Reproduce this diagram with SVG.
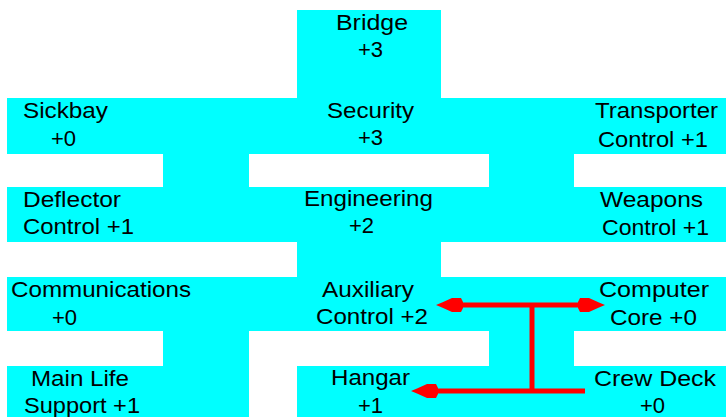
<svg xmlns="http://www.w3.org/2000/svg" width="726" height="417" viewBox="0 0 726 417">
  <style>
    .room { fill: #00ffff; shape-rendering: crispEdges; }
    .passage { fill: #00ffff; shape-rendering: crispEdges; }
    .label { font-family: "Liberation Sans", Arial, sans-serif; font-size: 22px; fill: #000000; }
    .route { fill: none; stroke: #ff0000; stroke-width: 5; stroke-linecap: butt; }
  </style>
  <defs>
    <marker id="head" markerUnits="userSpaceOnUse" viewBox="-29 -8 31 16" markerWidth="31" markerHeight="16" refX="-8" refY="0" orient="auto-start-reverse">
      <path d="M0,0 L-6,-2.6 L-16,-7 L-25,-7 L-27,-3 L-27,3 L-25,7 L-16,7 L-6,2.6 Z" fill="#ff0000"/>
    </marker>
  </defs>
  <rect width="726" height="417" fill="#ffffff"/>

  <g id="bridge">
    <rect class="room" x="297" y="10" width="144" height="88"/>
    <text class="label" x="336" y="30" textLength="72" lengthAdjust="spacingAndGlyphs">Bridge</text>
    <text class="label" x="358" y="57">+3</text>
  </g>

  <g id="sickbay">
    <rect class="room" x="7" y="98" width="290" height="56"/>
    <text class="label" x="23" y="118" textLength="85" lengthAdjust="spacingAndGlyphs">Sickbay</text>
    <text class="label" x="51" y="146">+0</text>
  </g>
  <g id="security">
    <rect class="room" x="297" y="98" width="144" height="56"/>
    <text class="label" x="327" y="118" textLength="87" lengthAdjust="spacingAndGlyphs">Security</text>
    <text class="label" x="358" y="145">+3</text>
  </g>
  <g id="transporter-control">
    <rect class="room" x="441" y="98" width="285" height="56"/>
    <text class="label" x="595" y="118" textLength="123" lengthAdjust="spacingAndGlyphs">Transporter</text>
    <text class="label" x="598" y="147" textLength="110" lengthAdjust="spacingAndGlyphs">Control +1</text>
  </g>

  <g id="deflector-control">
    <rect class="room" x="7" y="187" width="290" height="55"/>
    <text class="label" x="23" y="207" textLength="98" lengthAdjust="spacingAndGlyphs">Deflector</text>
    <text class="label" x="23" y="234" textLength="111" lengthAdjust="spacingAndGlyphs">Control +1</text>
  </g>
  <g id="engineering">
    <rect class="room" x="297" y="187" width="144" height="55"/>
    <text class="label" x="304" y="206" textLength="129" lengthAdjust="spacingAndGlyphs">Engineering</text>
    <text class="label" x="349" y="233">+2</text>
  </g>
  <g id="weapons-control">
    <rect class="room" x="441" y="187" width="285" height="55"/>
    <text class="label" x="600" y="207" textLength="103" lengthAdjust="spacingAndGlyphs">Weapons</text>
    <text class="label" x="602" y="235" textLength="107" lengthAdjust="spacingAndGlyphs">Control +1</text>
  </g>

  <g id="communications">
    <rect class="room" x="7" y="277" width="290" height="54"/>
    <text class="label" x="11" y="297" textLength="180" lengthAdjust="spacingAndGlyphs">Communications</text>
    <text class="label" x="52" y="325">+0</text>
  </g>
  <g id="auxiliary-control">
    <rect class="room" x="297" y="277" width="144" height="54"/>
    <text class="label" x="322" y="297" textLength="92" lengthAdjust="spacingAndGlyphs">Auxiliary</text>
    <text class="label" x="316" y="324" textLength="112" lengthAdjust="spacingAndGlyphs">Control +2</text>
  </g>
  <g id="computer-core">
    <rect class="room" x="441" y="277" width="285" height="54"/>
    <text class="label" x="599" y="297" textLength="110" lengthAdjust="spacingAndGlyphs">Computer</text>
    <text class="label" x="610" y="325" textLength="87" lengthAdjust="spacingAndGlyphs">Core +0</text>
  </g>

  <g id="main-life-support">
    <rect class="room" x="7" y="366" width="242" height="51"/>
    <text class="label" x="31" y="386" textLength="98" lengthAdjust="spacingAndGlyphs">Main Life</text>
    <text class="label" x="24" y="413" textLength="116" lengthAdjust="spacingAndGlyphs">Support +1</text>
  </g>
  <g id="hangar">
    <rect class="room" x="297" y="366" width="192" height="51"/>
    <text class="label" x="331" y="385" textLength="79" lengthAdjust="spacingAndGlyphs">Hangar</text>
    <text class="label" x="358" y="413">+1</text>
  </g>
  <g id="crew-deck">
    <rect class="room" x="489" y="366" width="237" height="51"/>
    <text class="label" x="594" y="386" textLength="122" lengthAdjust="spacingAndGlyphs">Crew Deck</text>
    <text class="label" x="640" y="413">+0</text>
  </g>

  <!-- passages between rooms, and the red transfer routes on top -->
  <g id="connectors">
    <rect class="passage" x="163" y="154" width="86" height="33"/>
    <rect class="passage" x="489" y="154" width="85" height="33"/>
    <rect class="passage" x="297" y="242" width="144" height="35"/>
    <rect class="passage" x="163" y="331" width="86" height="35"/>
    <rect class="passage" x="489" y="331" width="85" height="35"/>
    <path class="route" d="M444,305 L597,305" marker-start="url(#head)" marker-end="url(#head)"/>
    <path class="route" d="M532,305 L532,391"/>
    <path class="route" d="M585,391 L419,391" marker-end="url(#head)"/>
  </g>
</svg>
